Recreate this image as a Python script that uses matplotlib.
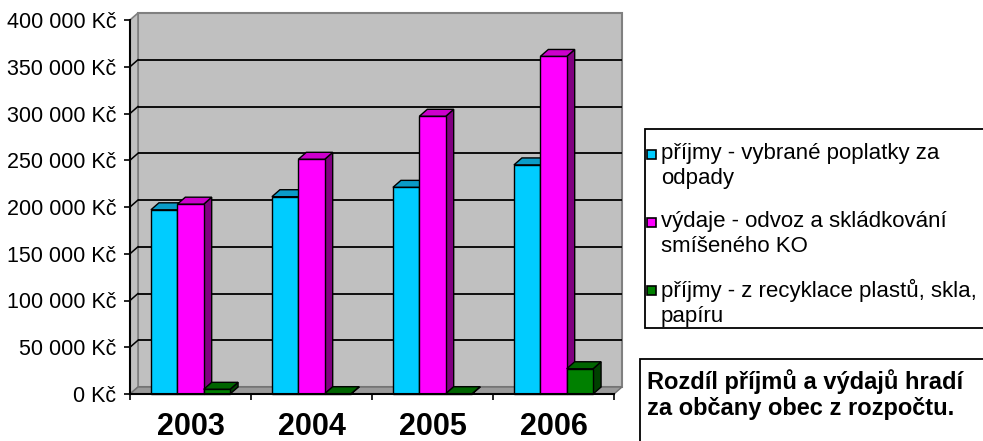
import matplotlib
matplotlib.use('Agg')
import matplotlib.pyplot as plt
from matplotlib.patches import Polygon, Rectangle

plt.rcParams['font.family'] = ['Liberation Sans', 'DejaVu Sans']

# ---------------- data ----------------
categories = ['2003', '2004', '2005', '2006']
prijmy_poplatky = [197000, 211000, 221000, 245000]
vydaje_odvoz = [203000, 251000, 297000, 361000]
prijmy_recyklace = [5000, 300, 300, 27000]
series_labels = ['příjmy - vybrané poplatky za\nodpady',
                 'výdaje - odvoz a skládkování\nsmíšeného KO',
                 'příjmy - z recyklace plastů, skla,\npapíru']
y_ticks = [0, 50000, 100000, 150000, 200000, 250000, 300000, 350000, 400000]
note_text = 'Rozdíl příjmů a výdajů hradí\nza občany obec z rozpočtu.'

series = [prijmy_poplatky, vydaje_odvoz, prijmy_recyklace]
front_cols = ['#00CCFF', '#FF00FF', '#008000']
top_cols = ['#0A9CC8', '#CC00CC', '#006400']
side_cols = ['#0080A8', '#800080', '#004000']

W, H = 983, 441
fig = plt.figure(figsize=(W / 100, H / 100), dpi=100)
ax = fig.add_axes([130 / W, 1 - 394 / H, 484 / W, 374 / H])
ncat = len(categories)
ax.set_xlim(0, ncat)
ax.set_ylim(0, y_ticks[-1])
ax.patch.set_visible(False)

bb = ax.get_position()
px_per_x = bb.width * W / ncat
px_per_y = bb.height * H / y_ticks[-1]
DX = 8 / px_per_x
DY = 7 / px_per_y
YMAX = y_ticks[-1]

# walls & floor
ax.add_patch(Polygon([(DX, DY), (ncat + DX, DY), (ncat + DX, YMAX + DY), (DX, YMAX + DY)],
                     closed=True, facecolor='#C0C0C0', edgecolor='#808080', lw=1.5,
                     zorder=0.5, clip_on=False))
ax.add_patch(Polygon([(0, 0), (0, YMAX), (DX, YMAX + DY), (DX, DY)],
                     closed=True, facecolor='#C0C0C0', edgecolor='#808080', lw=1.2,
                     zorder=0.6, clip_on=False))
ax.add_patch(Polygon([(0, 0), (ncat, 0), (ncat + DX, DY), (DX, DY)],
                     closed=True, facecolor='#9A9A9A', edgecolor='#707070', lw=1.0,
                     zorder=0.7, clip_on=False))
for yv in y_ticks[1:-1]:
    ax.plot([DX, ncat + DX], [yv + DY, yv + DY], color='black', lw=1.3, zorder=1,
            clip_on=False, solid_capstyle='butt')
    ax.plot([0, DX], [yv, yv + DY], color='black', lw=1.1, zorder=1, clip_on=False)

# bars
w = 0.218
start = (1 - 3 * w) / 2
z = 2.0
for i in range(ncat):
    for j, vals in enumerate(series):
        v = vals[i]
        x0 = i + start + j * w
        ax.add_patch(Polygon([(x0 + w, 0), (x0 + w, v), (x0 + w + DX, v + DY), (x0 + w + DX, DY)],
                             closed=True, facecolor=side_cols[j], edgecolor='black', lw=1.0,
                             zorder=z, clip_on=False, joinstyle='miter'))
        ax.add_patch(Polygon([(x0, v), (x0 + w, v), (x0 + w + DX, v + DY), (x0 + DX, v + DY)],
                             closed=True, facecolor=top_cols[j], edgecolor='black', lw=1.0,
                             zorder=z + 0.001, clip_on=False, joinstyle='miter'))
        ax.bar(x0, v, width=w, align='edge', color=front_cols[j], edgecolor='black',
               lw=1.0, zorder=z + 0.002, clip_on=False)
        z += 0.01

# axes styling
for s in ['top', 'right']:
    ax.spines[s].set_visible(False)
for s in ['left', 'bottom']:
    ax.spines[s].set_color('black')
    ax.spines[s].set_linewidth(1.5)
    ax.spines[s].set_zorder(5)

ax.set_yticks(y_ticks)
ax.set_yticklabels([f"{v:,.0f}".replace(',', ' ') + ' Kč' for v in y_ticks])
ax.tick_params(axis='y', direction='out', length=4, width=1.2, pad=6, labelsize=15.5,
               colors='black')
ax.set_xticks(range(ncat + 1))
ax.set_xticklabels([''] * (ncat + 1))
ax.tick_params(axis='x', which='major', direction='out', length=4, width=1.2)
ax.set_xticks([i + 0.5 for i in range(ncat)], minor=True)
ax.set_xticklabels(categories, minor=True, fontsize=22, fontweight='bold')
ax.tick_params(axis='x', which='minor', length=0, pad=13)

# legend (manual)
def fx(px):
    return px / W

def fy(py):
    return 1 - py / H

fig.patches.append(Rectangle((fx(645), fy(328)), fx(350), (328 - 129) / H,
                             transform=fig.transFigure, facecolor='white',
                             edgecolor='black', lw=1.3, zorder=1))
entry_y = [154, 222, 290]
for j, lab in enumerate(series_labels):
    yc = entry_y[j]
    fig.patches.append(Rectangle((fx(647), fy(yc + 4.5)), 9 / W, 9 / H,
                                 transform=fig.transFigure, facecolor=front_cols[j],
                                 edgecolor='black', lw=1.2, zorder=2))
    fig.text(fx(661), fy(yc - 11), lab, fontsize=16, va='top', ha='left',
             linespacing=1.22, color='black')

# note box
fig.patches.append(Rectangle((fx(640), fy(460)), fx(360), (460 - 359) / H,
                             transform=fig.transFigure, facecolor='white',
                             edgecolor='black', lw=1.3, zorder=1))
fig.text(fx(647), fy(369), note_text, fontsize=17, fontweight='bold', va='top',
         ha='left', linespacing=1.2, color='black')

fig.savefig('out.png', dpi=100, facecolor='white')
